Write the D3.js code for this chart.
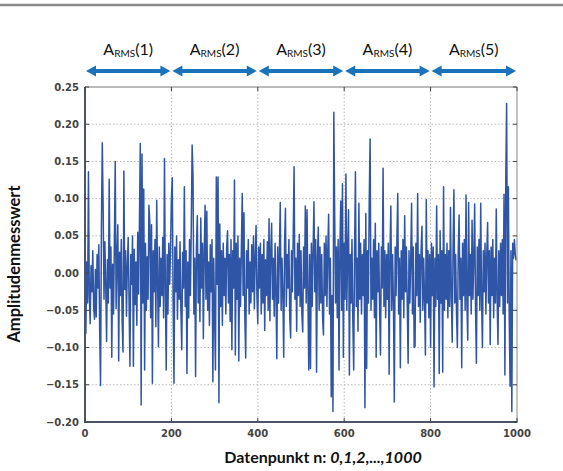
<!DOCTYPE html>
<html><head><meta charset="utf-8">
<script src="https://cdn.jsdelivr.net/npm/d3@7"></script>
<style>body{margin:0;background:#fff}</style>
</head><body><svg id="c" width="563" height="471"></svg>
<script>
const segmentNames = ["1","2","3","4","5"];
const segmentBounds = [0,200,400,600,800,1000];
const xTicks = [0,200,400,600,800,1000];
const xTickLabels = ["0","200","400","600","800","1000"];
const yTicks = [0.25,0.20,0.15,0.10,0.05,0.00,-0.05,-0.10,-0.15,-0.20];
const yTickLabels = ["0.25","0.20","0.15","0.10","0.05","0.00","\u22120.05","\u22120.10","\u22120.15","\u22120.20"];
const sampleStep = 2; // data point n of each value = index * sampleStep
// amplitude values in thousandths
const amplitudeMilli = [
20,-81,15,-40,136,-30,-68,10,-25,30,-45,-62,5,-59,25,-20,38,-80,-151,60,175,87,-35,42,-15,
-92,18,-40,126,-20,35,-113,12,-55,40,150,-48,20,65,-118,28,-30,45,-65,-106,137,-22,30,-58,10,
48,-38,-125,25,-15,50,-125,32,-42,15,-70,55,-28,67,174,-177,160,-40,113,-130,40,-50,22,-35,91,
69,-60,65,-148,30,-25,45,-72,98,-10,-99,35,-45,20,-30,48,-60,154,-20,-130,25,-55,40,-15,30,
100,128,-40,-148,35,-25,50,-62,18,-35,42,-50,-103,28,-20,116,-45,30,-135,15,-60,45,-30,60,172,
132,-55,20,-139,35,77,-40,25,-65,74,-20,40,-88,30,91,-35,83,-50,15,-70,38,-25,45,-146,20,
-60,-130,129,-15,129,-174,66,-45,30,-70,40,-30,20,-55,35,57,-40,25,-65,45,-103,30,-20,125,-110,
40,-35,50,-118,20,-45,35,107,-30,81,-60,-114,30,-20,45,-55,15,-40,38,-25,50,-48,22,64,-30,
-68,35,-20,40,-55,25,-40,45,-77,18,-30,42,-50,73,-64,30,67,-35,20,-58,40,-25,-115,35,-40,
28,95,-50,20,-30,-113,40,87,-45,25,-20,45,-60,-87,30,-25,50,143,-35,20,-78,40,-30,52,-45,
30,-55,-79,35,-20,90,-40,85,-30,-130,25,-128,40,-45,30,96,-25,45,-133,20,62,-50,35,-40,25,
-60,-83,40,-30,50,-45,30,79,-55,20,-166,-30,-186,216,78,-40,35,-60,45,-130,30,97,-50,120,-113,
40,-35,133,-50,30,85,-137,25,-40,45,-65,-130,30,136,-45,20,-78,94,-35,40,-55,25,-30,45,-181,
80,-128,30,-40,100,180,-50,20,-35,45,-60,67,-113,30,-25,40,-50,-110,35,-20,141,-45,30,-60,25,
-35,40,-136,30,90,-50,25,-40,-173,35,-30,45,107,-55,20,-127,30,-35,45,-60,77,-25,35,-45,-121,
30,-40,20,94,-55,35,-100,-98,40,-30,107,-45,25,-66,30,63,-50,20,-35,-110,99,-40,30,-60,25,
-100,40,-30,35,-153,20,-45,90,-35,25,-135,57,-40,30,-133,116,-50,25,-35,40,-60,30,-45,88,-30,
-93,35,112,-40,25,-55,-100,30,78,-35,20,-127,40,-30,45,-50,105,-40,-90,95,-30,25,-55,71,-35,
20,93,-45,-121,35,-30,45,-50,94,-35,-100,30,-25,40,-55,25,68,-40,30,-96,35,-30,45,-60,20,
-40,86,-35,-96,30,-45,40,-30,45,-55,106,-137,121,228,-40,116,-60,-152,30,-186,40,20,45,25,17
];
const data = amplitudeMilli.map((v,i) => ({n: i*sampleStep, a: v/1000}));

const svg = d3.select("#c");
const L=85, R=517, T=87, B=422;
const x = d3.scaleLinear().domain([0,1000]).range([L,R]);
const y = d3.scaleLinear().domain([-0.20,0.25]).range([B,T]);

// top rule
svg.append("line").attr("x1",0).attr("x2",563).attr("y1",5).attr("y2",5)
  .attr("stroke","#8a8a8a").attr("stroke-width",2.5);

// grid
const g = svg.append("g");
g.selectAll(".gx").data(xTicks.slice(1,-1)).join("line")
  .attr("x1",d=>x(d)).attr("x2",d=>x(d)).attr("y1",T).attr("y2",B)
  .attr("stroke","#bdb5b5").attr("stroke-dasharray","1.5,2").attr("stroke-width",1);
g.selectAll(".gy").data(yTicks.slice(1,-1)).join("line")
  .attr("y1",d=>y(d)).attr("y2",d=>y(d)).attr("x1",L).attr("x2",R)
  .attr("stroke","#bdb5b5").attr("stroke-dasharray","1.5,2").attr("stroke-width",1);

// data line
svg.append("path").datum(data)
  .attr("d", d3.line().x(d=>x(d.n)).y(d=>y(d.a)))
  .attr("fill","none").attr("stroke","#2f55a6").attr("stroke-width",1.5)
  .attr("stroke-linejoin","round");

// frame
svg.append("line").attr("x1",L).attr("x2",R).attr("y1",T).attr("y2",T).attr("stroke","#777").attr("stroke-width",1);
svg.append("line").attr("x1",R).attr("x2",R).attr("y1",T).attr("y2",B).attr("stroke","#888").attr("stroke-width",1);
svg.append("line").attr("x1",L).attr("x2",L).attr("y1",T).attr("y2",B+1).attr("stroke","#4a5568").attr("stroke-width",2);
svg.append("line").attr("x1",L-1).attr("x2",R+0.5).attr("y1",B).attr("y2",B).attr("stroke","#4a5568").attr("stroke-width",2);

// inner ticks
const tk = svg.append("g").attr("stroke","#444").attr("stroke-width",1);
xTicks.forEach(t=>{
  tk.append("line").attr("x1",x(t)).attr("x2",x(t)).attr("y1",B).attr("y2",B-4);
  tk.append("line").attr("x1",x(t)).attr("x2",x(t)).attr("y1",T).attr("y2",T+4);
});
yTicks.forEach(t=>{
  tk.append("line").attr("x1",L).attr("x2",L+4).attr("y1",y(t)).attr("y2",y(t));
  tk.append("line").attr("x1",R).attr("x2",R-4).attr("y1",y(t)).attr("y2",y(t));
});

// tick labels
svg.append("g").selectAll("text").data(yTicks).join("text")
  .attr("x",L-6).attr("y",d=>y(d)+3.6).attr("text-anchor","end")
  .attr("font-family","DejaVu Sans").attr("font-weight","bold").attr("font-size",10).attr("fill","#444")
  .text((d,i)=>yTickLabels[i]);
svg.append("g").selectAll("text").data(xTicks).join("text")
  .attr("x",d=>x(d)).attr("y",B+14.5).attr("text-anchor","middle")
  .attr("font-family","DejaVu Sans").attr("font-weight","bold").attr("font-size",10).attr("fill","#444")
  .text((d,i)=>xTickLabels[i]);

// segment arrows
const ay = 71, hl = 10, hh = 5.5, sw = 2;
const arrowColor = "#1a72bb";
segmentNames.forEach((nm,i)=>{
  const x0 = x(segmentBounds[i])+1, x1 = x(segmentBounds[i+1])-1;
  const p = d3.path();
  p.moveTo(x0, ay);
  p.lineTo(x0+hl, ay-hh); p.lineTo(x0+hl, ay-sw);
  p.lineTo(x1-hl, ay-sw); p.lineTo(x1-hl, ay-hh);
  p.lineTo(x1, ay);
  p.lineTo(x1-hl, ay+hh); p.lineTo(x1-hl, ay+sw);
  p.lineTo(x0+hl, ay+sw); p.lineTo(x0+hl, ay+hh);
  p.closePath();
  svg.append("path").attr("d",p.toString()).attr("fill",arrowColor);
  const cx = (x(segmentBounds[i])+x(segmentBounds[i+1]))/2;
  const t = svg.append("text").attr("x",cx).attr("y",55).attr("text-anchor","middle")
    .attr("font-family","Lato").attr("font-size",16).attr("fill","#111");
  t.append("tspan").text("A");
  t.append("tspan").attr("font-size",10).attr("dy",2).text("RMS");
  t.append("tspan").attr("dy",-2).text("(" + nm + ")");
});

// axis labels
svg.append("text").attr("transform","translate(20,264) rotate(-90)")
  .attr("text-anchor","middle").attr("font-family","Lato").attr("font-weight","bold")
  .attr("font-size",16.5).attr("fill","#111").text("Amplitudenmesswert");
const xl = svg.append("text").attr("x",323).attr("y",463).attr("text-anchor","middle")
  .attr("font-family","Lato").attr("font-weight","bold").attr("font-size",16).attr("fill","#111");
xl.append("tspan").text("Datenpunkt n: ");
xl.append("tspan").attr("font-style","italic").text("0,1,2,...,1000");
</script></body></html>
